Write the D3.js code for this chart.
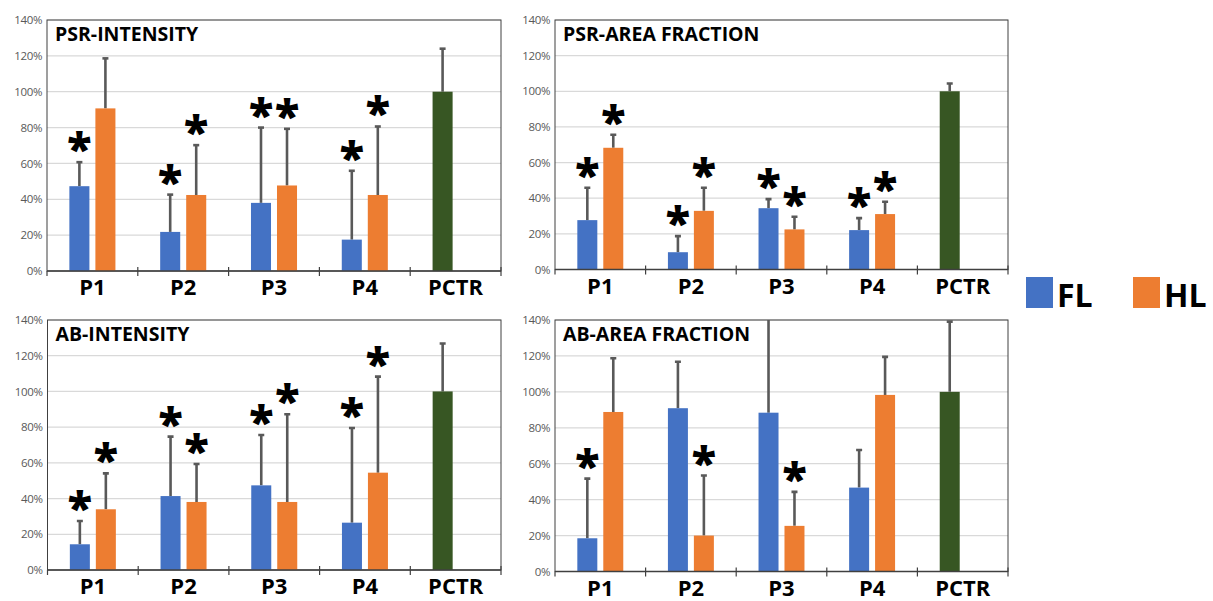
<!DOCTYPE html>
<html>
<head>
<meta charset="utf-8">
<script src="https://cdn.jsdelivr.net/npm/d3@7"></script>
<style>
  html, body { margin: 0; padding: 0; background: #fff; }
  svg { display: block; }
</style>
</head>
<body>
<svg id="chart" width="1213" height="601"></svg>
<script>
// ---------- DATA ----------
const categories = ["P1", "P2", "P3", "P4", "PCTR"];
const groups = ["P1", "P2", "P3", "P4"];
const seriesNames = ["FL", "HL"];
const yTicks = [0, 20, 40, 60, 80, 100, 120, 140];
const panelTitles = ["PSR-INTENSITY", "PSR-AREA FRACTION", "AB-INTENSITY", "AB-AREA FRACTION"];

// mean values (%) and upper error bar ends (%)
const psrIntensityFL    = [47.3, 21.8, 38.0, 17.5];
const psrIntensityFLErr = [60.7, 42.6, 80.0, 55.9];
const psrIntensityHL    = [90.7, 42.4, 47.7, 42.4];
const psrIntensityHLErr = [118.6, 70.2, 79.3, 80.6];
const psrIntensityCtr   = [100, 124.0];
const psrIntensitySigFL = [1, 1, 1, 1];
const psrIntensitySigHL = [0, 1, 1, 1];

const psrAreaFL    = [27.7, 9.7, 34.4, 22.1];
const psrAreaFLErr = [45.9, 18.7, 39.5, 28.8];
const psrAreaHL    = [68.3, 32.9, 22.5, 31.1];
const psrAreaHLErr = [75.6, 45.9, 29.6, 38.0];
const psrAreaCtr   = [100, 104.4];
const psrAreaSigFL = [1, 1, 1, 1];
const psrAreaSigHL = [1, 1, 1, 1];

const abIntensityFL    = [14.4, 41.4, 47.4, 26.5];
const abIntensityFLErr = [27.4, 74.7, 75.6, 79.5];
const abIntensityHL    = [34.0, 38.1, 38.1, 54.5];
const abIntensityHLErr = [54.1, 59.4, 87.2, 108.3];
const abIntensityCtr   = [100, 126.8];
const abIntensitySigFL = [1, 1, 1, 1];
const abIntensitySigHL = [1, 1, 1, 1];

const abAreaFL    = [18.5, 90.9, 88.4, 46.7];
const abAreaFLErr = [51.7, 116.8, 150.0, 67.6];
const abAreaHL    = [88.8, 20.0, 25.4, 98.3];
const abAreaHLErr = [118.7, 53.4, 44.3, 119.5];
const abAreaCtr   = [100, 139.1];
const abAreaSigFL = [1, 0, 0, 0];
const abAreaSigHL = [0, 1, 1, 0];

const panelData = [
  {fl: psrIntensityFL, flErr: psrIntensityFLErr, hl: psrIntensityHL, hlErr: psrIntensityHLErr, ctr: psrIntensityCtr, sigFL: psrIntensitySigFL, sigHL: psrIntensitySigHL},
  {fl: psrAreaFL, flErr: psrAreaFLErr, hl: psrAreaHL, hlErr: psrAreaHLErr, ctr: psrAreaCtr, sigFL: psrAreaSigFL, sigHL: psrAreaSigHL},
  {fl: abIntensityFL, flErr: abIntensityFLErr, hl: abIntensityHL, hlErr: abIntensityHLErr, ctr: abIntensityCtr, sigFL: abIntensitySigFL, sigHL: abIntensitySigHL},
  {fl: abAreaFL, flErr: abAreaFLErr, hl: abAreaHL, hlErr: abAreaHLErr, ctr: abAreaCtr, sigFL: abAreaSigFL, sigHL: abAreaSigHL}
];

// ---------- STYLE / LAYOUT ----------
const colors = {FL: "#4472C4", HL: "#ED7D31", CTR: "#375623"};
const errColor = "#595959";
const font = "'Open Sans', 'Liberation Sans', sans-serif";
const panelBoxes = [
  {x: 47,  y: 20,  w: 454, h: 251},
  {x: 555, y: 20,  w: 453, h: 249.5},
  {x: 47.5,y: 320, w: 453.5, h: 250},
  {x: 555, y: 320, w: 453, h: 251.5}
];

const svg = d3.select("#chart");

panelBoxes.forEach((box, pi) => {
  const d = panelData[pi];
  const g = svg.append("g").attr("transform", `translate(${box.x},${box.y})`);
  const clipId = "clip" + pi;
  svg.append("clipPath").attr("id", clipId)
    .append("rect").attr("x", 0).attr("y", 0).attr("width", box.w).attr("height", box.h);

  const x0 = d3.scaleBand().domain(categories).range([0, box.w]).padding(0);
  const x1 = d3.scaleBand().domain(seriesNames).range([0, x0.bandwidth()])
    .paddingInner(0.23).paddingOuter(0.86);
  const y = d3.scaleLinear().domain([0, 140]).range([box.h, 0]);

  // gridlines
  g.append("g").selectAll("line").data(yTicks.slice(1)).join("line")
    .attr("x1", 0).attr("x2", box.w)
    .attr("y1", v => y(v)).attr("y2", v => y(v))
    .attr("stroke", "#d9d9d9").attr("stroke-width", 1.2);

  // y axis labels
  const yAxis = d3.axisLeft(y).tickValues(yTicks).tickFormat(v => v + "%").tickSize(0).tickPadding(5);
  const ya = g.append("g").call(yAxis);
  ya.select(".domain").remove();
  ya.selectAll("text").attr("font-family", font).attr("font-size", 11.5).attr("fill", "#595959")
    .attr("letter-spacing", -0.4);

  // frame
  g.append("rect").attr("x", 0).attr("y", 0).attr("width", box.w).attr("height", box.h)
    .attr("fill", "none").attr("stroke", "#404040").attr("stroke-width", 1);

  const plot = g.append("g").attr("clip-path", `url(#${clipId})`);

  // build bar records
  const bars = [];
  groups.forEach((c, i) => {
    bars.push({cat: c, s: "FL", v: d.fl[i], e: d.flErr[i], sig: d.sigFL[i]});
    bars.push({cat: c, s: "HL", v: d.hl[i], e: d.hlErr[i], sig: d.sigHL[i]});
  });
  bars.push({cat: "PCTR", s: "FL", v: d.ctr[0], e: d.ctr[1], sig: 0, ctr: true});

  const bx = b => x0(b.cat) + x1(b.s);
  const bw = x1.bandwidth();

  // error bars (upper only)
  plot.selectAll("line.err").data(bars).join("line").attr("class", "err")
    .attr("x1", b => bx(b) + bw / 2).attr("x2", b => bx(b) + bw / 2)
    .attr("y1", b => y(b.v)).attr("y2", b => y(b.e))
    .attr("stroke", errColor).attr("stroke-width", 2.6);
  plot.selectAll("line.cap").data(bars.filter(b => b.e <= 140)).join("line").attr("class", "cap")
    .attr("x1", b => bx(b) + bw / 2 - 3).attr("x2", b => bx(b) + bw / 2 + 3)
    .attr("y1", b => y(b.e)).attr("y2", b => y(b.e))
    .attr("stroke", errColor).attr("stroke-width", 2.6);

  // bars
  plot.selectAll("rect.bar").data(bars).join("rect").attr("class", "bar")
    .attr("x", bx).attr("width", bw)
    .attr("y", b => y(b.v)).attr("height", b => box.h - y(b.v))
    .attr("fill", b => b.ctr ? colors.CTR : colors[b.s]);

  // bottom axis
  g.append("line").attr("x1", 0).attr("x2", box.w).attr("y1", box.h).attr("y2", box.h)
    .attr("stroke", "#404040").attr("stroke-width", 1.5);
  g.append("g").selectAll("line").data(categories.slice(1).concat(["end"])).join("line")
    .attr("x1", c => c === "end" ? box.w : x0(c)).attr("x2", c => c === "end" ? box.w : x0(c))
    .attr("y1", box.h - 4).attr("y2", box.h + 5)
    .attr("stroke", "#404040").attr("stroke-width", 1.2);
  g.append("line").attr("x1", 0).attr("x2", 0).attr("y1", box.h).attr("y2", box.h + 5)
    .attr("stroke", "#404040").attr("stroke-width", 1.2);

  // category labels
  g.append("g").selectAll("text").data(categories).join("text")
    .attr("x", c => x0(c) + x0.bandwidth() / 2).attr("y", box.h + 24)
    .attr("text-anchor", "middle").attr("font-family", font).attr("font-weight", 700)
    .attr("font-size", 22).attr("fill", "#000").text(c => c);

  // significance asterisks
  g.append("g").selectAll("text").data(bars.filter(b => b.sig)).join("text")
    .attr("x", b => bx(b) + bw / 2).attr("y", b => y(b.e) + 3)
    .attr("text-anchor", "middle").attr("font-family", font).attr("font-weight", 800)
    .attr("font-size", 45).attr("fill", "#000").text("*");

  // title
  g.append("text").attr("x", 8).attr("y", 21)
    .attr("font-family", font).attr("font-weight", 700).attr("font-size", 19.5)
    .attr("fill", "#000").text(panelTitles[pi]);
});

// legend
const legend = svg.append("g");
const legendItems = [{s: "FL", x: 1026}, {s: "HL", x: 1133}];
legend.selectAll("rect").data(legendItems).join("rect")
  .attr("x", d => d.x).attr("y", 277).attr("width", 27).attr("height", 31)
  .attr("fill", d => colors[d.s]);
legend.selectAll("text").data(legendItems).join("text")
  .attr("x", d => d.x + 31).attr("y", 307)
  .attr("font-family", font).attr("font-weight", 700).attr("font-size", 32)
  .attr("fill", "#000").text(d => d.s);
</script>
</body>
</html>
